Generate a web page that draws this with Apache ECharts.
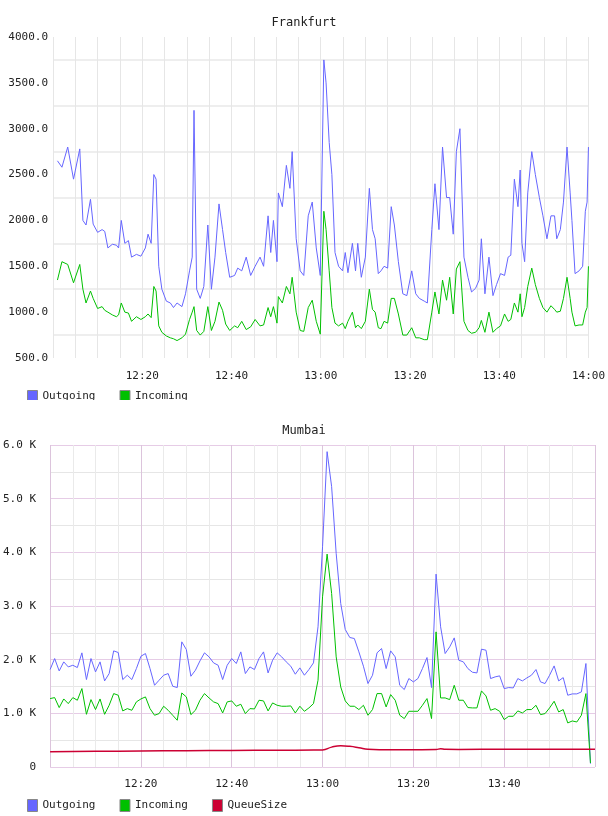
<!DOCTYPE html>
<html><head><meta charset="utf-8">
<script src="https://cdn.jsdelivr.net/npm/echarts@6/dist/echarts.min.js"></script>
<style>body{margin:0;background:#fff}#a{width:608px;height:400px}#b{width:608px;height:406px;margin-top:10px}</style>
</head><body><div id="a"></div><div id="b"></div>
<script>
// Frankfurt: minutes after 12:00
const fraMinutes=[1.0,2.0,3.3,4.6,6.0,6.7,7.4,8.4,9.0,10.0,11.0,11.6,12.3,13.3,14.2,14.7,15.3,16.1,16.9,17.6,18.7,19.7,20.7,21.3,22.0,22.6,23.1,23.7,24.4,25.4,26.3,27.0,27.8,28.9,29.7,30.6,31.2,31.6,32.2,33.0,33.8,34.7,35.5,36.3,37.2,38.0,38.7,39.6,40.7,41.4,42.3,43.3,44.3,45.3,46.4,47.2,48.2,48.8,49.4,50.2,50.5,51.4,52.3,53.1,53.6,54.5,55.4,56.2,57.2,58.1,59.0,59.9,60.7,61.2,61.9,62.5,63.2,64.0,64.9,65.5,66.1,67.1,67.8,68.3,69.1,70.0,70.9,71.6,72.2,72.9,73.5,74.2,75.0,75.8,76.5,77.4,78.4,79.3,80.4,81.3,82.1,83.2,83.9,84.9,85.6,86.5,87.3,88.2,88.9,89.7,90.4,91.2,92.1,93.0,93.8,94.7,95.5,96.0,96.8,97.7,98.6,99.4,100.3,101.2,102.0,102.6,103.4,104.2,104.7,105.1,105.7,106.4,107.3,108.1,109.0,109.8,110.7,111.6,112.4,112.9,113.7,114.4,115.2,115.9,116.3,117.0,117.9,118.7,119.3,119.7,120.0];
const fraOutgoing=[2650,2580,2800,2450,2780,2000,1950,2230,1960,1870,1900,1880,1700,1740,1730,1700,2000,1750,1780,1600,1630,1610,1700,1850,1750,2500,2450,1500,1250,1120,1100,1050,1100,1060,1200,1450,1600,3200,1250,1150,1280,1950,1250,1600,2180,1900,1650,1380,1400,1480,1450,1600,1400,1500,1600,1500,2050,1650,2000,1550,2300,2150,2600,2350,2750,1800,1450,1400,2050,2200,1700,1400,3750,3500,2850,2500,1650,1500,1450,1650,1430,1750,1450,1750,1380,1600,2350,1900,1800,1420,1450,1500,1480,2150,1950,1550,1200,1180,1450,1200,1150,1120,1100,1900,2400,1900,2800,2250,2250,1850,2750,3000,1600,1380,1220,1260,1350,1800,1200,1600,1180,1300,1420,1400,1600,1620,2450,2150,2550,1750,1550,2300,2750,2500,2250,2050,1800,2050,2050,1800,1900,2200,2800,2300,2000,1420,1450,1500,2100,2200,2800];
const fraIncoming=[1350,1550,1520,1320,1520,1250,1100,1230,1150,1040,1060,1020,1000,970,950,970,1100,1000,990,900,950,920,950,980,940,1280,1230,850,780,740,720,710,690,720,760,920,1000,1060,800,750,790,1060,800,900,1110,1020,870,800,850,830,900,810,840,920,850,860,1050,950,1060,880,1170,1100,1280,1200,1380,1000,800,790,1050,1130,900,760,2100,1900,1450,1050,880,850,880,820,900,1000,830,860,820,900,1250,1030,1000,830,820,900,880,1150,1150,980,750,750,830,720,720,700,700,1000,1220,980,1350,1130,1380,980,1470,1550,900,800,770,780,830,910,780,1000,780,820,850,980,900,920,1100,1000,1200,950,1050,1280,1480,1300,1150,1050,1000,1070,1030,1000,1010,1150,1380,1150,1000,850,860,860,1000,1050,1500];
// Mumbai: one sample per minute from 12:00
const mumOutgoing=[1816,2021,1790,1959,1865,1896,1853,2127,1629,2021,1772,1959,1604,1741,2164,2133,1629,1710,1629,1834,2064,2114,1834,1523,1617,1710,1741,1505,1480,2332,2189,1691,1803,1977,2127,2052,1940,1896,1629,1896,2021,1928,2145,1741,1865,1816,2021,2145,1753,1990,2127,2052,1959,1878,1729,1847,1710,1816,1940,2612,4104,5876,5223,3980,3047,2562,2413,2394,2145,1878,1555,1710,2127,2207,1834,2164,2052,1523,1443,1648,1586,1648,1834,2040,1480,3594,2612,2114,2238,2406,1990,1959,1834,1766,1753,2195,2176,1648,1679,1698,1461,1480,1474,1648,1604,1660,1710,1816,1586,1555,1710,1884,1604,1666,1337,1362,1362,1399,1928,62];
const mumIncoming=[1275,1293,1107,1268,1181,1293,1244,1461,982,1256,1070,1268,982,1150,1368,1337,1045,1088,1057,1213,1268,1306,1088,964,995,1132,1057,964,871,1380,1306,976,1057,1244,1368,1287,1213,1181,1007,1213,1231,1132,1169,995,1088,1082,1244,1231,1045,1194,1150,1132,1132,1138,1007,1132,1038,1101,1181,1617,3171,3967,3233,2052,1492,1231,1132,1132,1070,1150,964,1070,1368,1368,1119,1349,1244,964,902,1038,1038,1038,1150,1275,902,2518,1287,1287,1256,1523,1244,1244,1107,1101,1101,1418,1324,1057,1088,1038,883,945,945,1045,1007,1070,1070,1150,976,995,1101,1225,1026,1070,821,858,839,964,1368,75];
const queueMinutes=[0,10,20,30,40,50,58,60,62,64,66,68,70,75,80,85,86,87,90,100,110,119,120];
const queueSize=[285,292,298,303,308,312,315,318,370,395,385,360,330,320,322,325,340,330,328,330,330,330,330];

const FONT='DejaVu Sans Mono';
const tfmt=v=>{const h=12+Math.floor(v/60),m=v%60;return h+':'+(m<10?'0':'')+m;};
const pair=(t,v)=>v.map((y,i)=>[t[i],y]);
const C={out:'#6666ff',inc:'#00c000',q:'#cc0033'};
const legend=(top)=>({top:top,left:22,itemWidth:10,itemHeight:12,itemGap:24,icon:'rect',textStyle:{fontFamily:FONT,fontSize:11,color:'#222'},itemStyle:{borderColor:'#888',borderWidth:1}});

echarts.init(document.getElementById('a')).setOption({
  animation:false,
  title:{text:'Frankfurt',left:'center',top:12,textStyle:{fontFamily:FONT,fontSize:12,fontWeight:'normal',color:'#222'}},
  legend:legend(385),
  grid:{left:53,right:17,top:37,bottom:42},
  xAxis:{type:'value',min:0,max:120,interval:5,axisLine:{show:false},axisTick:{show:false},
    axisLabel:{fontFamily:FONT,fontSize:11,color:'#222',margin:13,formatter:v=>(v%20===0&&v>0)?tfmt(v):''},
    splitLine:{lineStyle:{color:'#e6e6e6'}}},
  yAxis:{type:'value',min:500,max:4000,interval:250,axisLine:{show:false},axisTick:{show:false},
    axisLabel:{fontFamily:FONT,fontSize:11,color:'#222',margin:5,formatter:v=>v%500===0?v.toFixed(1):''},
    splitLine:{lineStyle:{color:['#ffffff','#eeeeee'],width:2}}},
  series:[
    {name:'Outgoing',type:'line',showSymbol:false,data:pair(fraMinutes,fraOutgoing),lineStyle:{width:1,color:C.out},itemStyle:{color:C.out}},
    {name:'Incoming',type:'line',showSymbol:false,data:pair(fraMinutes,fraIncoming),lineStyle:{width:1,color:C.inc},itemStyle:{color:C.inc}}
  ]
});

const mumMinutes=mumOutgoing.map((_,i)=>i);
echarts.init(document.getElementById('b')).setOption({
  animation:false,
  title:{text:'Mumbai',left:'center',top:10,textStyle:{fontFamily:FONT,fontSize:12,fontWeight:'normal',color:'#222'}},
  legend:legend(384),
  grid:{left:50,right:13,top:35,bottom:49},
  xAxis:{type:'value',min:0,max:120,interval:5,axisLine:{show:false},axisTick:{show:false},
    axisLabel:{fontFamily:FONT,fontSize:11,color:'#222',margin:12,formatter:v=>(v%20===0&&v>0&&v<120)?tfmt(v):''},
    splitLine:{lineStyle:{color:['#dcc4dc','#eaeaea','#eaeaea','#eaeaea']}}},
  yAxis:{type:'value',min:0,max:6000,interval:500,axisLine:{show:false},axisTick:{show:false},
    axisLabel:{fontFamily:FONT,fontSize:11,color:'#222',margin:14,formatter:v=>v===0?'0':(v%1000===0?(v/1000).toFixed(1)+' K':'')},
    splitLine:{lineStyle:{color:['#e6cce6','#e6e6e6']}}},
  series:[
    {name:'Outgoing',type:'line',showSymbol:false,data:pair(mumMinutes,mumOutgoing),lineStyle:{width:1,color:C.out},itemStyle:{color:C.out}},
    {name:'Incoming',type:'line',showSymbol:false,data:pair(mumMinutes,mumIncoming),lineStyle:{width:1,color:C.inc},itemStyle:{color:C.inc}},
    {name:'QueueSize',type:'line',showSymbol:false,smooth:true,data:pair(queueMinutes,queueSize),lineStyle:{width:1.5,color:C.q},itemStyle:{color:C.q}}
  ]
});
</script></body></html>
